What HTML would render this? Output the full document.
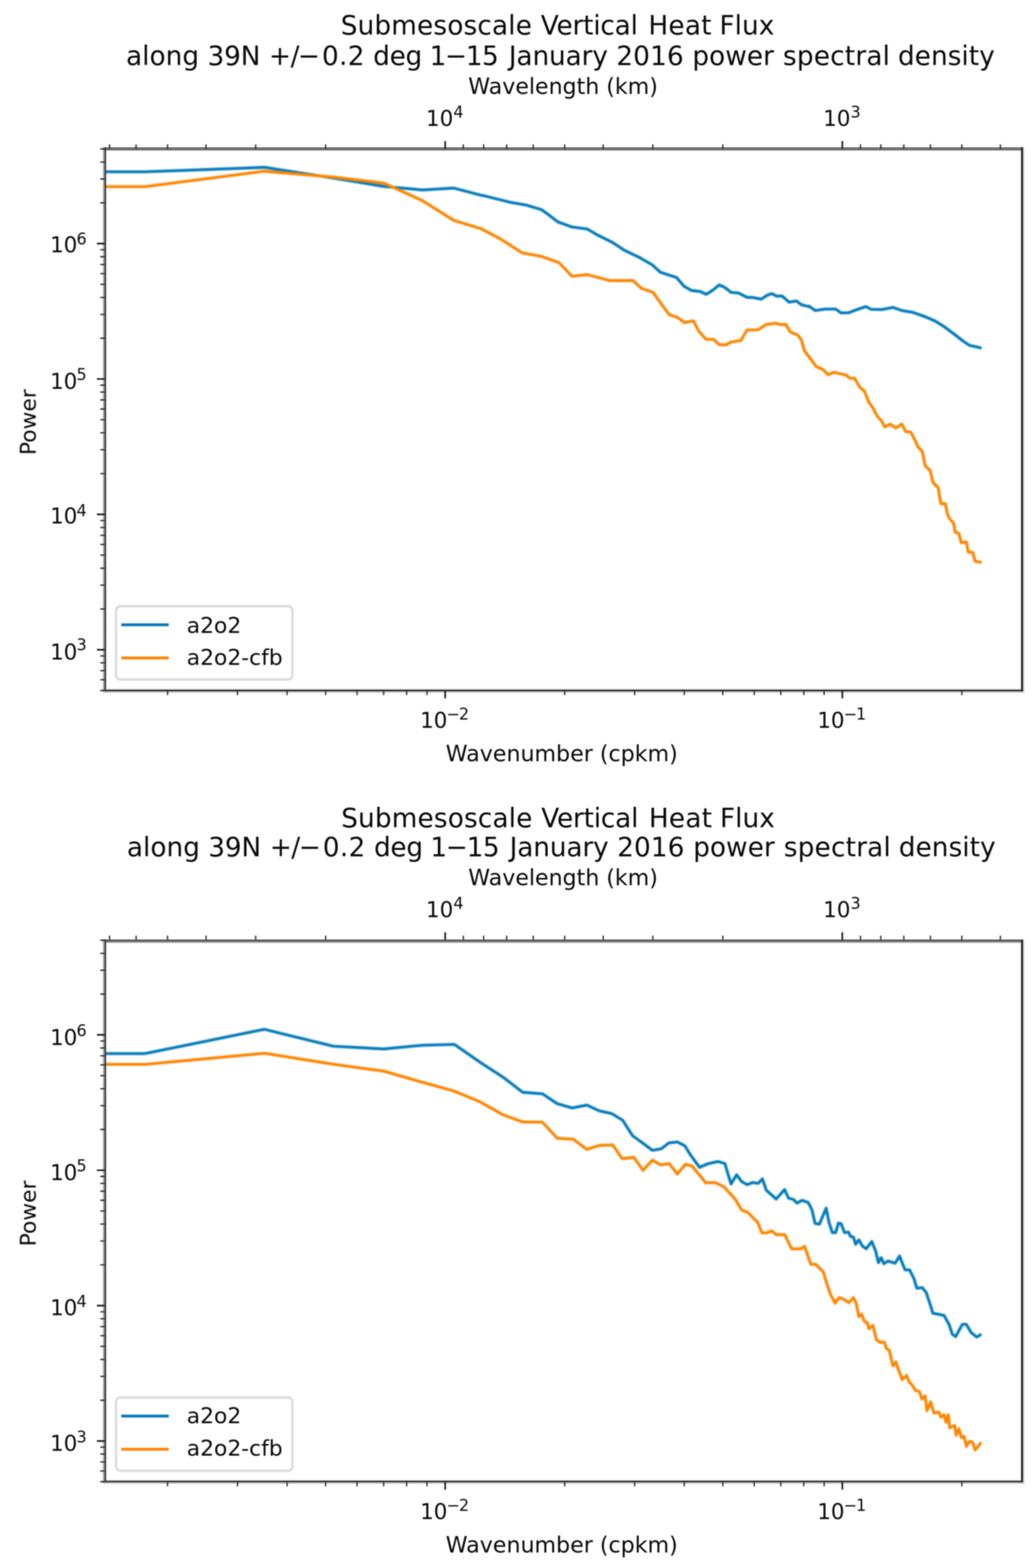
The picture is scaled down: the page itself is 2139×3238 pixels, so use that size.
<!DOCTYPE html>
<html lang="en"><head><meta charset="utf-8"><title>Submesoscale Vertical Heat Flux power spectral density</title>
<style>
html,body{margin:0;padding:0;background:#fff;}
body{width:2139px;height:3238px;overflow:hidden;}
svg{display:block;font-family:"DejaVu Sans","Liberation Sans",sans-serif;fill:#0a0a0a;}
</style></head>
<body>
<svg width="2139" height="3238" viewBox="0 0 2139 3238">
<defs>
<filter id="soft" filterUnits="userSpaceOnUse" x="0" y="0" width="2139" height="1640" color-interpolation-filters="sRGB"><feGaussianBlur stdDeviation="1.0"/></filter>
<filter id="mid" filterUnits="userSpaceOnUse" x="0" y="0" width="2139" height="1640" color-interpolation-filters="sRGB"><feGaussianBlur stdDeviation="0.9"/></filter>
<filter id="crisp" filterUnits="userSpaceOnUse" x="0" y="0" width="2139" height="1640" color-interpolation-filters="sRGB"><feGaussianBlur stdDeviation="0.8"/></filter>
<filter id="curve" filterUnits="userSpaceOnUse" x="0" y="0" width="2139" height="1640" color-interpolation-filters="sRGB"><feGaussianBlur stdDeviation="1.5"/></filter>
</defs>
<rect width="2139" height="3238" fill="#fff"/>
<g>
<g transform="translate(0,0)">
<g filter="url(#soft)">
<text y="71.3" font-size="54.35" xml:space="preserve"><tspan x="703.5" letter-spacing="0.30">Submesoscale</tspan> <tspan x="1116.5" letter-spacing="-0.41">Vertical</tspan> <tspan x="1338.8" letter-spacing="0.44">Heat</tspan> <tspan x="1485.5" letter-spacing="0.05">Flux</tspan></text>
<text y="134.0" font-size="54.35" xml:space="preserve"><tspan x="260.2" letter-spacing="0.07">along</tspan> <tspan x="428.4" letter-spacing="-0.32">39N</tspan> <tspan x="555.3" letter-spacing="0.00">+</tspan><tspan x="599.9" letter-spacing="0.00">/</tspan><tspan x="615.1" letter-spacing="0.00">−</tspan><tspan x="664.7" letter-spacing="0.74">0.2</tspan> <tspan x="770.5" letter-spacing="-0.60">deg</tspan> <tspan x="886.9" letter-spacing="0.00">1</tspan><tspan x="918.6" letter-spacing="0.00">−</tspan><tspan x="961.8" letter-spacing="-1.20">15</tspan> <tspan x="1050.6" letter-spacing="-0.26">January</tspan> <tspan x="1272.6" letter-spacing="0.20">2016</tspan> <tspan x="1429.5" letter-spacing="0.09">power</tspan> <tspan x="1616.6" letter-spacing="0.38">spectral</tspan> <tspan x="1854.0" letter-spacing="0.11">density</tspan></text>
<text x="1162.5" y="194.4" font-size="45.6" text-anchor="middle">Wavelength (km)</text>
<text x="1159.8" y="1572.3" font-size="45.7" text-anchor="middle">Wavenumber (cpkm)</text>
<text transform="translate(73.8,871.8) rotate(-90)" font-size="45.0" text-anchor="middle">Power</text>
</g>
<g filter="url(#curve)">
<clipPath id="clipp1"><rect x="216.5" y="307.6" width="1893.5" height="1118.3000000000002"/></clipPath>
<path d="M216.0,354.8 L299.0,354.8 L546.0,345.6 L690.2,368.0 L792.7,385.0 L872.2,392.2 L937.0,388.4 L992.0,402.9 L1001.0,404.6 L1052.0,417.4 L1087.8,423.8 L1118.4,433.2 L1133.7,444.2 L1151.5,458.2 L1179.6,468.4 L1212.8,473.0 L1230.6,483.7 L1263.8,500.3 L1289.3,516.9 L1319.9,531.4 L1325.5,534.8 L1345.9,546.3 L1363.8,562.4 L1396.9,573.1 L1412.2,591.0 L1427.6,599.9 L1445.4,601.9 L1458.2,607.6 L1470.9,599.9 L1484.9,588.4 L1496.4,593.5 L1509.2,603.7 L1524.5,605.0 L1542.3,613.9 L1555.1,614.4 L1571.7,617.8 L1583.2,610.1 L1593.4,606.3 L1603.6,611.4 L1615.1,611.4 L1629.1,624.1 L1644.4,621.6 L1654.6,629.2 L1669.9,633.1 L1670.4,632.3 L1683.2,641.2 L1703.6,638.2 L1725.3,638.2 L1736.7,646.3 L1752.0,645.8 L1769.9,639.2 L1787.8,633.1 L1798.0,638.7 L1820.9,639.2 L1843.9,634.8 L1861.7,641.2 L1884.7,645.1 L1910.2,654.0 L1930.6,662.9 L1951.0,675.7 L1971.4,691.0 L1989.3,705.0 L2002.0,713.2 L2017.3,716.5 L2023.7,718.3" fill="none" stroke="#057cbc" stroke-width="6.1" stroke-linejoin="round" stroke-linecap="square" clip-path="url(#clipp1)"/>
<path d="M216.0,385.5 L299.0,385.5 L546.0,353.6 L690.2,365.9 L792.7,378.2 L872.2,414.4 L937.0,455.2 L992.0,471.8 L1034.2,493.9 L1077.6,522.0 L1118.4,529.6 L1154.1,542.4 L1180.9,570.5 L1212.8,567.1 L1258.7,579.4 L1307.1,579.4 L1325.0,596.0 L1325.5,596.1 L1348.5,603.7 L1363.8,625.4 L1381.6,649.6 L1399.5,656.0 L1413.5,666.2 L1431.4,662.4 L1442.9,684.1 L1458.2,700.7 L1473.5,700.7 L1484.9,711.6 L1499.0,712.1 L1509.2,706.5 L1529.6,703.2 L1542.3,681.5 L1565.3,681.0 L1581.9,670.1 L1602.3,667.5 L1609.9,670.1 L1622.7,670.1 L1631.6,685.4 L1646.9,691.7 L1654.6,701.9 L1660.2,722.9 L1673.0,740.7 L1685.7,757.3 L1698.5,762.4 L1709.9,773.9 L1721.4,768.8 L1746.9,774.4 L1754.6,781.0 L1764.8,781.5 L1775.0,799.4 L1785.2,808.3 L1793.4,830.0 L1803.0,843.4 L1810.6,858.7 L1820.2,869.2 L1826.9,881.7 L1837.4,875.9 L1849.8,883.6 L1862.3,875.9 L1869.9,891.2 L1880.4,892.2 L1889.0,908.4 L1895.7,923.7 L1904.4,932.4 L1910.1,962.0 L1920.6,971.6 L1926.4,996.4 L1936.9,1007.0 L1942.6,1040.4 L1952.2,1040.4 L1956.0,1061.5 L1961.7,1073.0 L1968.4,1078.7 L1972.3,1098.8 L1979.9,1101.7 L1984.7,1120.8 L1995.2,1118.9 L1999.1,1139.9 L2008.6,1140.9 L2013.4,1159.1 L2023.9,1161.0" fill="none" stroke="#ff8500" stroke-width="6.1" stroke-linejoin="round" stroke-linecap="square" clip-path="url(#clipp1)"/>
</g>
<g filter="url(#crisp)">
<rect x="212.6" y="304.1" width="1899.4" height="6.6" fill="#6e6e6e"/>
<rect x="212.6" y="1421.1" width="1902.2" height="3.2" fill="#e8e8e8"/>
<rect x="212.6" y="1424.3" width="1902.2" height="3.5" fill="#1e1e1e"/>
<rect x="212.6" y="1427.8" width="1902.2" height="3.6" fill="#d8d8d8"/>
<rect x="212.6" y="304.1" width="3.3" height="1123.7" fill="#a4a4a4"/>
<rect x="215.9" y="304.1" width="3.2" height="1123.7" fill="#363636"/>
<rect x="2108.2" y="304.1" width="3.8" height="1123.7" fill="#1e1e1e"/>
<rect x="2112.0" y="304.1" width="2.8" height="1123.7" fill="#c6c6c6"/>
</g>
<g filter="url(#mid)">
<path d="M919.1,1425.9 v16.4 M1739.1,1425.9 v16.4 M1739.1,307.6 v-16.4 M919.1,307.6 v-16.4 M216.5,1341.7 h-16.4 M216.5,1062.2 h-16.4 M216.5,782.6 h-16.4 M216.5,503.0 h-16.4" stroke="#1a1a1a" stroke-width="3.4" fill="none"/>
<path d="M345.9,1425.9 v9.6 M490.3,1425.9 v9.6 M592.8,1425.9 v9.6 M672.3,1425.9 v9.6 M737.2,1425.9 v9.6 M792.1,1425.9 v9.6 M839.6,1425.9 v9.6 M881.6,1425.9 v9.6 M1165.9,1425.9 v9.6 M1310.3,1425.9 v9.6 M1412.8,1425.9 v9.6 M1492.3,1425.9 v9.6 M1557.2,1425.9 v9.6 M1612.1,1425.9 v9.6 M1659.6,1425.9 v9.6 M1701.6,1425.9 v9.6 M1985.9,1425.9 v9.6 M2065.4,307.6 v-9.6 M1985.9,307.6 v-9.6 M1921.0,307.6 v-9.6 M1866.1,307.6 v-9.6 M1818.6,307.6 v-9.6 M1776.6,307.6 v-9.6 M1492.3,307.6 v-9.6 M1347.9,307.6 v-9.6 M1245.4,307.6 v-9.6 M1165.9,307.6 v-9.6 M1101.0,307.6 v-9.6 M1046.1,307.6 v-9.6 M998.6,307.6 v-9.6 M956.6,307.6 v-9.6 M672.3,307.6 v-9.6 M527.9,307.6 v-9.6 M425.4,307.6 v-9.6 M345.9,307.6 v-9.6 M281.0,307.6 v-9.6 M226.1,307.6 v-9.6 M216.5,1425.9 h-9.6 M216.5,1403.8 h-9.6 M216.5,1385.0 h-9.6 M216.5,1368.8 h-9.6 M216.5,1354.5 h-9.6 M216.5,1257.6 h-9.6 M216.5,1208.3 h-9.6 M216.5,1173.4 h-9.6 M216.5,1146.3 h-9.6 M216.5,1124.2 h-9.6 M216.5,1105.5 h-9.6 M216.5,1089.3 h-9.6 M216.5,1075.0 h-9.6 M216.5,978.0 h-9.6 M216.5,928.8 h-9.6 M216.5,893.8 h-9.6 M216.5,866.8 h-9.6 M216.5,844.6 h-9.6 M216.5,825.9 h-9.6 M216.5,809.7 h-9.6 M216.5,795.4 h-9.6 M216.5,698.4 h-9.6 M216.5,649.2 h-9.6 M216.5,614.3 h-9.6 M216.5,587.2 h-9.6 M216.5,565.0 h-9.6 M216.5,546.3 h-9.6 M216.5,530.1 h-9.6 M216.5,515.8 h-9.6 M216.5,418.9 h-9.6 M216.5,369.6 h-9.6 M216.5,334.7 h-9.6 M216.5,307.6 h-9.6" stroke="#262626" stroke-width="2.6" fill="none"/>
</g>
<g filter="url(#soft)">
<text x="103.4" y="1361.6" font-size="44.2">10<tspan x="157.9" y="1343.4" font-size="33.0">3</tspan></text>
<text x="103.4" y="1080.6" font-size="44.2">10<tspan x="157.9" y="1065.9" font-size="33.0">4</tspan></text>
<text x="103.4" y="802.5" font-size="44.2">10<tspan x="157.9" y="784.8" font-size="33.0">5</tspan></text>
<text x="103.4" y="520.7" font-size="44.2">10<tspan x="157.9" y="505.2" font-size="33.0">6</tspan></text>
<text x="867.5" y="1502.8" font-size="44.2">10<tspan x="922.0" y="1485.8" font-size="33.0" letter-spacing="-2.2">−2</tspan></text>
<text x="1687.5" y="1502.8" font-size="44.2">10<tspan x="1742.0" y="1485.8" font-size="33.0" letter-spacing="-2.2">−1</tspan></text>
<text x="879.6" y="259.5" font-size="44.2">10<tspan x="936.1" y="242.5" font-size="33.0">4</tspan></text>
<text x="1699.6" y="259.5" font-size="44.2">10<tspan x="1756.1" y="242.5" font-size="33.0">3</tspan></text>
<rect x="239.6" y="1251.8" width="364.19999999999993" height="151.4000000000001" rx="9" ry="9" fill="#fff" fill-opacity="0.8" stroke="#d4d4d4" stroke-opacity="0.8" stroke-width="5.2"/>
<path d="M253.4,1290.2 h92" stroke="#057cbc" stroke-width="6.1" stroke-linecap="square"/>
<path d="M253.4,1358.8 h92" stroke="#ff8500" stroke-width="6.1" stroke-linecap="square"/>
<text x="385.5" y="1306.5" font-size="45.1">a2o2</text>
<text x="385.5" y="1373.0" font-size="45.1">a2o2-cfb</text>
</g>
</g>
<g transform="translate(0,1634.0)">
<g filter="url(#soft)">
<text y="74.0" font-size="54.35" xml:space="preserve"><tspan x="704.5" letter-spacing="0.30">Submesoscale</tspan> <tspan x="1117.5" letter-spacing="-0.41">Vertical</tspan> <tspan x="1339.8" letter-spacing="0.44">Heat</tspan> <tspan x="1486.5" letter-spacing="0.05">Flux</tspan></text>
<text y="134.2" font-size="54.35" xml:space="preserve"><tspan x="261.9" letter-spacing="0.07">along</tspan> <tspan x="430.1" letter-spacing="-0.32">39N</tspan> <tspan x="557.0" letter-spacing="0.00">+</tspan><tspan x="601.6" letter-spacing="0.00">/</tspan><tspan x="616.8" letter-spacing="0.00">−</tspan><tspan x="666.4" letter-spacing="0.74">0.2</tspan> <tspan x="772.2" letter-spacing="-0.60">deg</tspan> <tspan x="888.6" letter-spacing="0.00">1</tspan><tspan x="920.3" letter-spacing="0.00">−</tspan><tspan x="963.5" letter-spacing="-1.20">15</tspan> <tspan x="1052.3" letter-spacing="-0.26">January</tspan> <tspan x="1274.3" letter-spacing="0.20">2016</tspan> <tspan x="1431.2" letter-spacing="0.09">power</tspan> <tspan x="1618.3" letter-spacing="0.38">spectral</tspan> <tspan x="1855.7" letter-spacing="0.11">density</tspan></text>
<text x="1162.5" y="194.4" font-size="45.6" text-anchor="middle">Wavelength (km)</text>
<text x="1159.8" y="1572.3" font-size="45.7" text-anchor="middle">Wavenumber (cpkm)</text>
<text transform="translate(73.8,871.8) rotate(-90)" font-size="45.0" text-anchor="middle">Power</text>
</g>
<g filter="url(#curve)">
<clipPath id="clipp2"><rect x="216.5" y="307.6" width="1893.5" height="1118.3000000000002"/></clipPath>
<path d="M216.0,541.7 L299.0,541.7 L546.0,491.6 L688.3,526.5 L792.6,532.1 L872.2,524.5 L938.3,522.7 L992.1,560.2 L1038.3,590.2 L1079.1,621.6 L1119.9,624.7 L1150.5,645.1 L1181.1,654.0 L1211.7,648.1 L1237.2,659.9 L1262.8,665.5 L1285.7,679.5 L1306.1,711.4 L1329.1,728.0 L1346.9,741.5 L1365.3,738.3 L1380.6,726.3 L1398.5,724.3 L1413.8,731.9 L1426.5,752.3 L1444.4,776.6 L1462.2,768.9 L1482.7,764.6 L1496.7,768.9 L1503.1,790.6 L1509.4,811.0 L1520.9,791.9 L1531.1,805.9 L1542.6,812.3 L1554.1,807.9 L1565.6,809.7 L1574.0,800.3 L1582.1,823.8 L1602.6,842.1 L1619.9,822.5 L1628.1,840.3 L1638.3,842.9 L1645.4,850.5 L1656.1,844.7 L1668.9,849.3 L1676.5,864.6 L1682.9,892.6 L1691.8,893.9 L1705.7,860.9 L1711.5,889.6 L1718.4,911.4 L1725.3,911.4 L1731.0,891.9 L1736.7,893.1 L1743.6,911.4 L1751.7,910.3 L1756.2,919.5 L1762.0,920.6 L1766.6,935.5 L1773.5,926.4 L1780.4,939.0 L1788.4,944.7 L1799.9,929.8 L1807.9,949.3 L1813.6,973.4 L1819.4,963.1 L1825.1,975.7 L1833.2,970.0 L1848.1,974.6 L1857.3,959.6 L1863.0,974.6 L1868.7,988.3 L1877.9,988.3 L1887.1,1006.7 L1892.9,1026.2 L1904.3,1025.1 L1912.4,1035.4 L1920.4,1059.5 L1926.1,1077.9 L1938.8,1080.2 L1949.1,1082.5 L1959.4,1100.8 L1966.3,1121.5 L1973.2,1126.1 L1987.0,1100.8 L1995.0,1100.8 L2005.4,1118.1 L2016.8,1127.2 L2023.7,1122.7" fill="none" stroke="#057cbc" stroke-width="6.1" stroke-linejoin="round" stroke-linecap="square" clip-path="url(#clipp2)"/>
<path d="M216.0,564.0 L299.0,564.0 L546.0,541.0 L690.0,564.0 L792.6,578.0 L872.2,601.0 L937.0,618.9 L992.1,641.8 L1038.3,668.0 L1079.1,682.8 L1119.9,683.3 L1150.5,716.5 L1183.7,718.6 L1211.7,739.5 L1237.2,731.3 L1265.3,730.5 L1284.4,758.6 L1308.7,756.1 L1327.8,782.8 L1346.9,761.9 L1364.0,771.5 L1381.9,768.9 L1398.5,790.6 L1415.1,770.2 L1429.1,774.0 L1457.1,808.4 L1477.6,808.4 L1495.4,817.4 L1518.4,842.9 L1531.1,864.6 L1543.9,869.7 L1564.3,890.1 L1573.2,911.8 L1583.4,911.8 L1593.6,907.9 L1602.6,915.6 L1620.4,915.6 L1634.4,944.9 L1653.6,944.9 L1661.2,939.8 L1674.0,976.8 L1684.2,976.8 L1700.0,992.9 L1706.9,1015.9 L1713.8,1036.6 L1724.1,1057.2 L1732.1,1045.7 L1742.5,1049.2 L1752.8,1056.1 L1762.0,1045.7 L1767.7,1057.2 L1773.5,1084.8 L1779.2,1080.2 L1784.9,1095.1 L1790.7,1097.4 L1794.1,1110.0 L1802.2,1103.1 L1809.7,1132.8 L1816.3,1137.6 L1825.9,1137.6 L1829.7,1150.0 L1836.4,1154.8 L1840.3,1173.0 L1844.1,1186.4 L1849.8,1178.7 L1854.6,1194.0 L1860.4,1207.4 L1862.3,1215.0 L1871.8,1206.4 L1876.6,1218.9 L1884.3,1227.5 L1890.0,1237.1 L1898.6,1239.9 L1903.4,1255.2 L1910.1,1248.5 L1913.9,1279.1 L1921.6,1261.0 L1928.3,1283.9 L1938.8,1282.0 L1942.6,1292.5 L1949.3,1287.7 L1953.1,1303.1 L1957.9,1287.7 L1960.8,1314.5 L1971.3,1309.7 L1974.2,1329.8 L1979.9,1316.4 L1984.7,1334.6 L1990.4,1331.8 L1995.2,1352.8 L2001.9,1342.3 L2008.6,1345.1 L2013.4,1360.4 L2023.9,1347.1" fill="none" stroke="#ff8500" stroke-width="6.1" stroke-linejoin="round" stroke-linecap="square" clip-path="url(#clipp2)"/>
</g>
<g filter="url(#crisp)">
<rect x="212.6" y="306.3" width="1899.4" height="3.5" fill="#484848"/>
<rect x="212.6" y="309.8" width="1899.4" height="3.2" fill="#949494"/>
<rect x="212.6" y="1420.5" width="1902.2" height="3.2" fill="#f4f4f4"/>
<rect x="212.6" y="1423.7" width="1902.2" height="3.2" fill="#222"/>
<rect x="212.6" y="1426.9" width="1902.2" height="3.2" fill="#c4c4c4"/>
<rect x="212.6" y="306.3" width="3.3" height="1120.6" fill="#a4a4a4"/>
<rect x="215.9" y="306.3" width="3.2" height="1120.6" fill="#363636"/>
<rect x="2108.2" y="306.3" width="3.8" height="1120.6" fill="#1e1e1e"/>
<rect x="2112.0" y="306.3" width="2.8" height="1120.6" fill="#c6c6c6"/>
</g>
<g filter="url(#mid)">
<path d="M919.1,1425.9 v16.4 M1739.1,1425.9 v16.4 M1739.1,307.6 v-16.4 M919.1,307.6 v-16.4 M216.5,1341.7 h-16.4 M216.5,1062.2 h-16.4 M216.5,782.6 h-16.4 M216.5,503.0 h-16.4" stroke="#1a1a1a" stroke-width="3.4" fill="none"/>
<path d="M345.9,1425.9 v9.6 M490.3,1425.9 v9.6 M592.8,1425.9 v9.6 M672.3,1425.9 v9.6 M737.2,1425.9 v9.6 M792.1,1425.9 v9.6 M839.6,1425.9 v9.6 M881.6,1425.9 v9.6 M1165.9,1425.9 v9.6 M1310.3,1425.9 v9.6 M1412.8,1425.9 v9.6 M1492.3,1425.9 v9.6 M1557.2,1425.9 v9.6 M1612.1,1425.9 v9.6 M1659.6,1425.9 v9.6 M1701.6,1425.9 v9.6 M1985.9,1425.9 v9.6 M2065.4,307.6 v-9.6 M1985.9,307.6 v-9.6 M1921.0,307.6 v-9.6 M1866.1,307.6 v-9.6 M1818.6,307.6 v-9.6 M1776.6,307.6 v-9.6 M1492.3,307.6 v-9.6 M1347.9,307.6 v-9.6 M1245.4,307.6 v-9.6 M1165.9,307.6 v-9.6 M1101.0,307.6 v-9.6 M1046.1,307.6 v-9.6 M998.6,307.6 v-9.6 M956.6,307.6 v-9.6 M672.3,307.6 v-9.6 M527.9,307.6 v-9.6 M425.4,307.6 v-9.6 M345.9,307.6 v-9.6 M281.0,307.6 v-9.6 M226.1,307.6 v-9.6 M216.5,1425.9 h-9.6 M216.5,1403.8 h-9.6 M216.5,1385.0 h-9.6 M216.5,1368.8 h-9.6 M216.5,1354.5 h-9.6 M216.5,1257.6 h-9.6 M216.5,1208.3 h-9.6 M216.5,1173.4 h-9.6 M216.5,1146.3 h-9.6 M216.5,1124.2 h-9.6 M216.5,1105.5 h-9.6 M216.5,1089.3 h-9.6 M216.5,1075.0 h-9.6 M216.5,978.0 h-9.6 M216.5,928.8 h-9.6 M216.5,893.8 h-9.6 M216.5,866.8 h-9.6 M216.5,844.6 h-9.6 M216.5,825.9 h-9.6 M216.5,809.7 h-9.6 M216.5,795.4 h-9.6 M216.5,698.4 h-9.6 M216.5,649.2 h-9.6 M216.5,614.3 h-9.6 M216.5,587.2 h-9.6 M216.5,565.0 h-9.6 M216.5,546.3 h-9.6 M216.5,530.1 h-9.6 M216.5,515.8 h-9.6 M216.5,418.9 h-9.6 M216.5,369.6 h-9.6 M216.5,334.7 h-9.6 M216.5,307.6 h-9.6" stroke="#262626" stroke-width="2.6" fill="none"/>
</g>
<g filter="url(#soft)">
<text x="103.4" y="1362.4" font-size="44.2">10<tspan x="157.9" y="1344.9" font-size="33.0">3</tspan></text>
<text x="103.4" y="1082.4" font-size="44.2">10<tspan x="157.9" y="1064.9" font-size="33.0">4</tspan></text>
<text x="103.4" y="802.5" font-size="44.2">10<tspan x="157.9" y="784.5" font-size="33.0">5</tspan></text>
<text x="103.4" y="523.7" font-size="44.2">10<tspan x="157.9" y="506.2" font-size="33.0">6</tspan></text>
<text x="867.5" y="1502.8" font-size="44.2">10<tspan x="922.0" y="1485.8" font-size="33.0" letter-spacing="-2.2">−2</tspan></text>
<text x="1687.5" y="1502.8" font-size="44.2">10<tspan x="1742.0" y="1485.8" font-size="33.0" letter-spacing="-2.2">−1</tspan></text>
<text x="879.6" y="259.5" font-size="44.2">10<tspan x="936.1" y="242.5" font-size="33.0">4</tspan></text>
<text x="1699.6" y="259.5" font-size="44.2">10<tspan x="1756.1" y="242.5" font-size="33.0">3</tspan></text>
<rect x="239.6" y="1251.8" width="364.19999999999993" height="151.4000000000001" rx="9" ry="9" fill="#fff" fill-opacity="0.8" stroke="#d4d4d4" stroke-opacity="0.8" stroke-width="5.2"/>
<path d="M253.4,1290.2 h92" stroke="#057cbc" stroke-width="6.1" stroke-linecap="square"/>
<path d="M253.4,1358.8 h92" stroke="#ff8500" stroke-width="6.1" stroke-linecap="square"/>
<text x="385.5" y="1305.2" font-size="45.1">a2o2</text>
<text x="385.5" y="1371.7" font-size="45.1">a2o2-cfb</text>
</g>
</g>
</g>
</svg>
</body></html>
